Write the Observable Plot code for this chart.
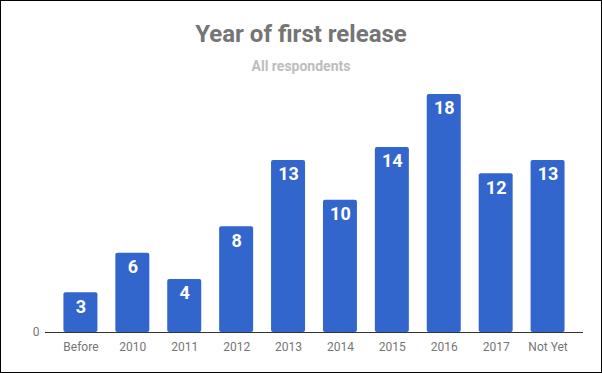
<!DOCTYPE html>
<html>
<head>
<meta charset="utf-8">
<script src="https://cdn.jsdelivr.net/npm/d3@7"></script>
<script src="https://cdn.jsdelivr.net/npm/@observablehq/plot@0.6"></script>
<style>
  html, body { margin: 0; padding: 0; background: #fff; }
  #wrap { position: relative; width: 602px; height: 373px; overflow: hidden; }
  #wrap svg { position: absolute; left: 0; top: 0; }
  #border { position: absolute; left: 0; top: 0; width: 602px; height: 373px; box-sizing: border-box; border: 1px solid #000; pointer-events: none; }
</style>
</head>
<body>
<div id="wrap"><div id="border"></div></div>
<script>
const titleText = "Year of first release";
const subtitleText = "All respondents";
const categories = ["Before", "2010", "2011", "2012", "2013", "2014", "2015", "2016", "2017", "Not Yet"];
const values = [3, 6, 4, 8, 13, 10, 14, 18, 12, 13];
const yTicks = [0];

const data = categories.map((c, i) => ({category: c, value: values[i]}));

const chart = Plot.plot({
  width: 602,
  height: 373,
  marginLeft: 45,
  marginRight: 19,
  marginTop: 94,
  marginBottom: 41,
  style: {fontFamily: "Roboto, sans-serif", background: "transparent"},
  x: {domain: categories, paddingInner: 0.345, paddingOuter: 0.355, round: false, axis: null},
  y: {domain: [0, 18], axis: null},
  marks: [
    Plot.barY(data, {x: "category", y: "value", fill: "#3366cc", rx: 2}),
    Plot.ruleY([0], {stroke: "#333333", strokeWidth: 1}),
    Plot.axisX({tickSize: 0, tickPadding: 10, fontSize: 12, color: "#757575", label: null}),
    Plot.axisY({ticks: yTicks, tickSize: 0, tickPadding: 6, fontSize: 12, color: "#757575", label: null}),
    Plot.text(data, {x: "category", y: "value", text: d => String(d.value), fill: "#ffffff", fontSize: 18, fontWeight: "bold", lineAnchor: "top", dy: 7})
  ]
});

const svg = d3.select(chart);
svg.append("text")
  .attr("x", 301).attr("y", 42)
  .attr("text-anchor", "middle")
  .attr("font-family", "Roboto, sans-serif")
  .attr("font-size", 24).attr("font-weight", "bold")
  .attr("fill", "#757575")
  .text(titleText);
svg.append("text")
  .attr("x", 301).attr("y", 71)
  .attr("text-anchor", "middle")
  .attr("font-family", "Roboto, sans-serif")
  .attr("font-size", 14).attr("font-weight", "bold")
  .attr("fill", "#bdbdbd")
  .text(subtitleText);

const wrap = document.getElementById("wrap");
wrap.insertBefore(chart, wrap.firstChild);
</script>
</body>
</html>
